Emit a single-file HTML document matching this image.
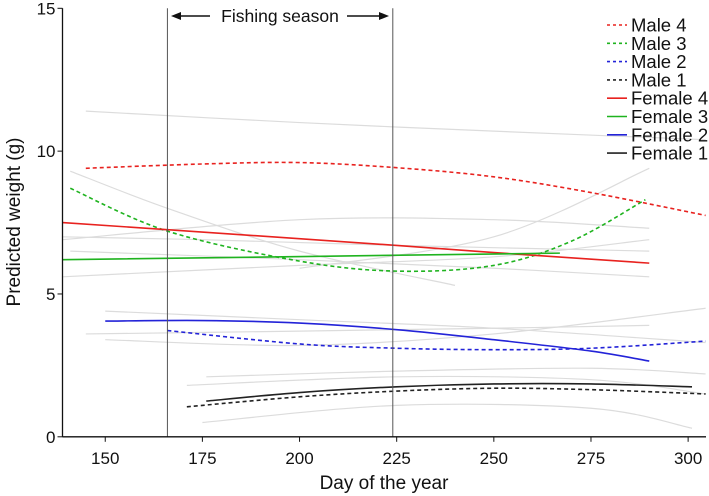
<!DOCTYPE html>
<html><head><meta charset="utf-8"><style>
html,body{margin:0;padding:0;background:#fff;}
svg{display:block;font-family:"Liberation Sans",Arial,sans-serif;}
</style></head><body>
<svg id="chart" width="709" height="496">
<g id="grey"></g>
<g id="series"></g>
<g id="axes"></g>
</svg>
<script>
const xTicks=[150,175,200,225,250,275,300];
const yTicks=[0,5,10,15];
const seasonDays=[166,224];
const seriesNames=["Male 4","Male 3","Male 2","Male 1","Female 4","Female 3","Female 2","Female 1"];
const seriesColors=["#e8221f","#1fb31f","#2323d8","#222","#e8221f","#1fb31f","#2323d8","#222"];
const seriesDashed=[true,true,true,true,false,false,false,false];
const seriesDays=[
 [145,175,200,225,250,275,304.5],
 [141,166,200,225,250,270,289],
 [166,200,225,250,275,304.5],
 [171,200,225,250,275,304.5],
 [139,166,225,250,290],
 [139,267],
 [150,175,200,225,250,275,290],
 [176,200,225,250,275,301]
];
const seriesValues=[
 [9.4,9.55,9.6,9.42,9.1,8.55,7.75],
 [8.7,7.2,6.15,5.8,6.0,6.85,8.3],
 [3.72,3.25,3.1,3.05,3.1,3.35],
 [1.05,1.4,1.6,1.7,1.65,1.5],
 [7.5,7.25,6.7,6.45,6.08],
 [6.2,6.43],
 [4.05,4.07,3.98,3.75,3.4,3.0,2.65],
 [1.25,1.55,1.75,1.85,1.85,1.75]
];
const greyDays=[
 [145,200,250,304.5],[141,166,200,240],[139,200,250,290],[139,175,225,290],
 [141,200,250,290],[139,200,250,290],[150,200,250,304.5],[145,200,250,290],
 [176,225,275,304.5],[171,225,275,304.5],[175,225,275,301],[150,200,250,304.5],[200,250,290]
];
const greyValues=[
 [11.4,11.0,10.7,10.4],[9.3,8.0,6.5,5.3],[6.9,7.6,7.6,7.3],[7.0,6.9,6.7,6.5],
 [6.5,6.2,5.9,5.6],[5.6,6.0,6.3,6.9],[4.4,4.1,3.8,3.3],[3.6,3.7,3.8,3.9],
 [2.1,2.3,2.4,2.2],[1.8,2.1,2.0,1.5],[0.5,1.1,1.0,0.3],[3.4,3.2,3.6,4.5],[5.9,7.0,9.4]
];
const NS="http://www.w3.org/2000/svg";
const L=62.5,R=706,T=8.3,B=436.8,d0=139,d1=304.6,v0=0,v1=15;
const xs=d=>L+(d-d0)/(d1-d0)*(R-L);
const ys=v=>B-(v-v0)/(v1-v0)*(B-T);
function mk(tag,attrs,parent){const e=document.createElementNS(NS,tag);for(const k in attrs)e.setAttribute(k,attrs[k]);parent.appendChild(e);return e;}
function pathFor(ds,vs){
 const pts=ds.map((d,i)=>[xs(d),ys(vs[i])]);
 let s="M"+pts[0][0]+","+pts[0][1];
 for(let i=0;i<pts.length-1;i++){
  const p0=pts[Math.max(0,i-1)],p1=pts[i],p2=pts[i+1],p3=pts[Math.min(pts.length-1,i+2)];
  const c1=[p1[0]+(p2[0]-p0[0])/6,p1[1]+(p2[1]-p0[1])/6],c2=[p2[0]-(p3[0]-p1[0])/6,p2[1]-(p3[1]-p1[1])/6];
  s+=" C"+c1+" "+c2+" "+p2;
 }
 return s;
}
const grey=document.getElementById('grey'),ser=document.getElementById('series'),ax=document.getElementById('axes');
greyDays.forEach((ds,i)=>{
 const p=mk('path',{d:pathFor(ds,greyValues[i]),fill:'none',stroke:'#dcdcdc','stroke-width':1.2},grey);
 
 
});
seasonDays.forEach(d=>{
 const l=mk('line',{x1:xs(d),x2:xs(d),y1:T,y2:B,stroke:'#555','stroke-width':1},ax);
 
 
});
seriesNames.forEach((n,i)=>{
 const p=mk('path',{d:pathFor(seriesDays[i],seriesValues[i]),fill:'none',stroke:seriesColors[i],'stroke-width':1.6},ser);
 if(seriesDashed[i])p.setAttribute('stroke-dasharray','4,3');
 
 
 const ly=25+i*18.3;
 const ll=mk('line',{x1:607,x2:627,y1:ly,y2:ly,stroke:seriesColors[i],'stroke-width':1.6},ax);
 if(seriesDashed[i])ll.setAttribute('stroke-dasharray','3,3');
 
 
 const t=mk('text',{x:631,y:ly+6.5,'font-size':18.5,fill:'#111'},ax);
 t.textContent=n;
 
 
});
const a1=mk('line',{x1:L,x2:L,y1:T,y2:B,stroke:'#111','stroke-width':1.3},ax);

const a2=mk('line',{x1:L,x2:R,y1:B,y2:B,stroke:'#111','stroke-width':1.3},ax);

xTicks.forEach(v=>{
 mk('line',{x1:xs(v),x2:xs(v),y1:B,y2:B+5,stroke:'#111'},ax);
 const t=mk('text',{x:xs(v),y:B+27,'font-size':17,'text-anchor':'middle',fill:'#111'},ax);
 t.textContent=v;
 
 
});
yTicks.forEach(v=>{
 mk('line',{x1:L-5,x2:L,y1:ys(v),y2:ys(v),stroke:'#111'},ax);
 const t=mk('text',{x:L-7,y:ys(v)+6,'font-size':17,'text-anchor':'end',fill:'#111'},ax);
 t.textContent=v;
 
 
});
const xt=mk('text',{x:384,y:489,'font-size':19,'text-anchor':'middle',fill:'#111'},ax);
xt.textContent='Day of the year';

const yt=mk('text',{x:0,y:0,'font-size':19,'text-anchor':'middle',fill:'#111',transform:'translate(20,222) rotate(-90)'},ax);
yt.textContent='Predicted weight (g)';

const fs=mk('text',{x:280,y:22,'font-size':17.5,'text-anchor':'middle',fill:'#111'},ax);
fs.textContent='Fishing season';

const al=mk('line',{x1:180,x2:210,y1:16,y2:16,stroke:'#111','stroke-width':1.5},ax);

mk('polygon',{points:'171,16 181,12 181,20',fill:'#111'},ax);
const ar=mk('line',{x1:347,x2:380,y1:16,y2:16,stroke:'#111','stroke-width':1.5},ax);

mk('polygon',{points:'389,16 379,12 379,20',fill:'#111'},ax);
</script>
</body></html>
